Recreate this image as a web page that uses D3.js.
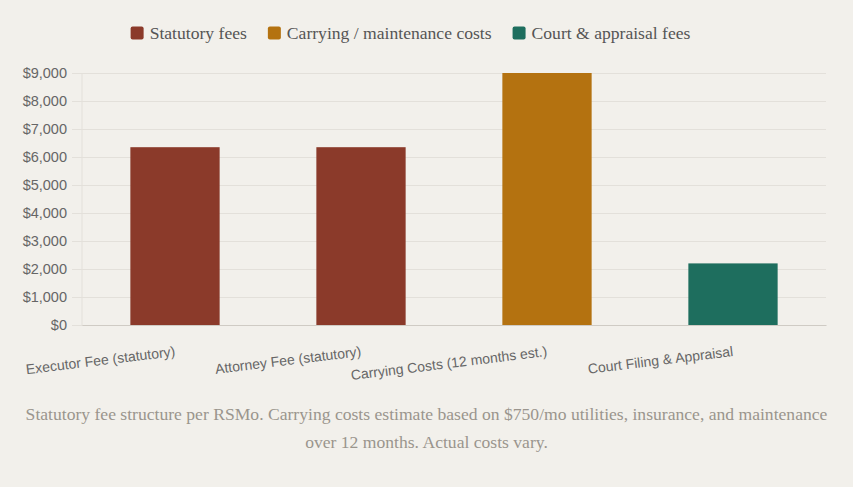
<!DOCTYPE html>
<html>
<head>
<meta charset="utf-8">
<script src="https://cdn.jsdelivr.net/npm/d3@7"></script>
<style>
  html, body { margin: 0; padding: 0; background: #f2f0eb; }
  svg { display: block; }
</style>
</head>
<body>
<div id="chart"></div>
<script>
// Probate cost breakdown

const width = 853,
    height = 487,
    margin = ({ top: 73, right: 27, bottom: 162, left: 82 });

// data
const categories = ["Executor Fee (statutory)", "Attorney Fee (statutory)", "Carrying Costs (12 months est.)", "Court Filing & Appraisal"];
const values = [6350, 6350, 9000, 2200];
const groups = ["Statutory fees", "Statutory fees", "Carrying / maintenance costs", "Court & appraisal fees"];
const legendLabels = ["Statutory fees", "Carrying / maintenance costs", "Court & appraisal fees"];
const yTicks = [0, 1000, 2000, 3000, 4000, 5000, 6000, 7000, 8000, 9000];
const captionLines = [
    "Statutory fee structure per RSMo. Carrying costs estimate based on $750/mo utilities, insurance, and maintenance",
    "over 12 months. Actual costs vary."
];

const color = d3.scaleOrdinal()
    .domain(legendLabels)
    .range(["#8b3a2a", "#b47210", "#1e6e5e"]);

const svg = d3.select("#chart")
    .append("svg")
    .attr("width", width)
    .attr("height", height)
    .attr("viewBox", [0, 0, width, height]);

const x = d3.scaleBand()
    .domain(categories)
    .range([margin.left, width - margin.right])
    .paddingInner(0.52)
    .paddingOuter(0.26);

const y = d3.scaleLinear()
    .domain([0, 9000])
    .range([height - margin.bottom, margin.top]);

// grid + y axis
const yAxis = svg.append("g")
    .attr("transform", `translate(${margin.left},0)`)
    .call(d3.axisLeft(y)
        .tickValues(yTicks)
        .tickSize(-(width - margin.left - margin.right))
        .tickPadding(15)
        .tickFormat(d => "$" + d3.format(",")(d)));

yAxis.select(".domain").remove();
yAxis.selectAll(".tick line")
    .attr("x1", -10)
    .attr("stroke", "#e3e0da");
yAxis.selectAll(".tick text")
    .attr("fill", "#666")
    .style("font-family", "'Liberation Sans', Arial, sans-serif")
    .style("font-size", "14.5px");

// left axis line
svg.append("line")
    .attr("x1", margin.left).attr("x2", margin.left)
    .attr("y1", margin.top).attr("y2", height - margin.bottom)
    .attr("stroke", "#e3e0da");

// bars
svg.append("g")
    .selectAll("rect")
    .data(categories)
    .join("rect")
    .attr("x", d => x(d))
    .attr("y", (d, i) => y(values[i]))
    .attr("width", x.bandwidth())
    .attr("height", (d, i) => y(0) - y(values[i]))
    .attr("fill", (d, i) => color(groups[i]));

// x axis
const xAxis = svg.append("g")
    .attr("transform", `translate(0,${height - margin.bottom})`)
    .call(d3.axisBottom(x).tickSize(0).tickFormat(""));

xAxis.select(".domain")
    .attr("stroke", "#cfcbc4");

svg.append("g")
    .selectAll("text")
    .data(categories)
    .join("text")
    .attr("transform", d => `translate(${x(d) + x.bandwidth() / 2},351) rotate(-7)`)
    .attr("text-anchor", "end")
    .attr("dominant-baseline", "central")
    .attr("fill", "#666")
    .style("font-family", "'Liberation Sans', Arial, sans-serif")
    .style("font-size", "14px")
    .text(d => d);

// legend
const serif = "'Liberation Serif', 'DejaVu Serif', serif";
const legend = svg.append("g");
let lx = 0;
legendLabels.forEach(l => {
    const g = legend.append("g").attr("transform", `translate(${lx},0)`);
    g.append("rect")
        .attr("x", 0).attr("y", -6.5)
        .attr("width", 13).attr("height", 13)
        .attr("rx", 2)
        .attr("fill", color(l));
    const t = g.append("text")
        .attr("x", 19)
        .attr("dominant-baseline", "central")
        .attr("fill", "#555")
        .style("font-family", serif)
        .style("font-size", "17.6px")
        .text(l);
    lx += 19 + t.node().getComputedTextLength() + 21;
});
lx -= 21;
legend.attr("transform", `translate(${410.5 - lx / 2},33)`);

// caption
svg.append("g")
    .selectAll("text")
    .data(captionLines)
    .join("text")
    .attr("x", width / 2)
    .attr("y", (d, i) => 414 + i * 28)
    .attr("text-anchor", "middle")
    .attr("dominant-baseline", "central")
    .attr("fill", "#9a958d")
    .style("font-family", serif)
    .style("font-size", "17.6px")
    .text(d => d);
</script>
</body>
</html>
